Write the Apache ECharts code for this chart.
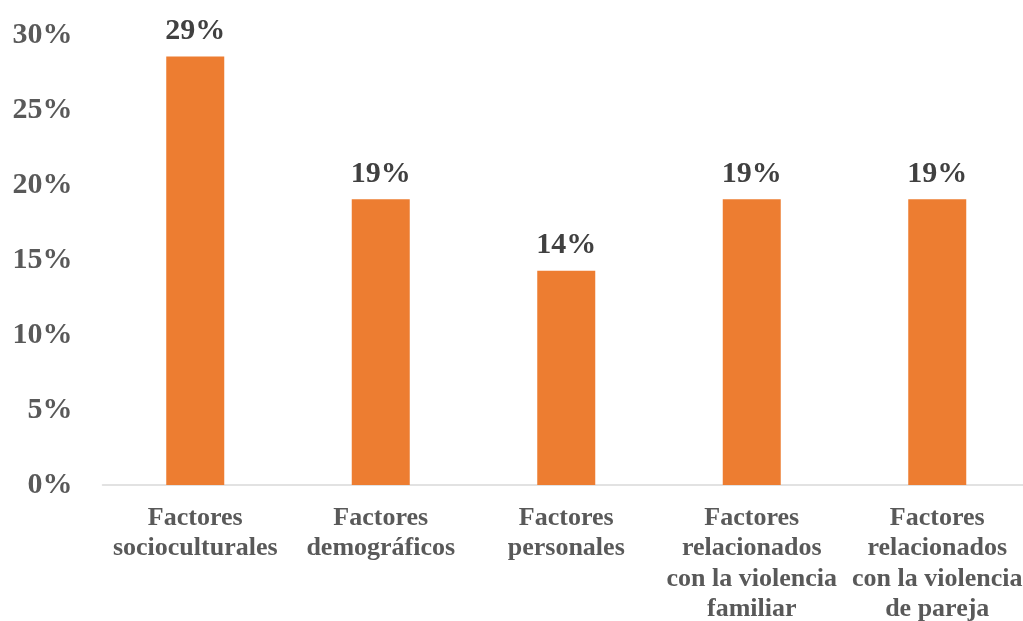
<!DOCTYPE html>
<html>
<head>
<meta charset="utf-8">
<script src="https://cdn.jsdelivr.net/npm/echarts@6/dist/echarts.min.js"></script>
<style>
  html, body { margin: 0; padding: 0; background: #fff; }
  #chart { width: 1023px; height: 621px; }
</style>
</head>
<body>
<div id="chart"></div>
<script>
// categorias (con saltos de linea como en el original)
var categories = [
  'Factores\nsocioculturales',
  'Factores\ndemográficos',
  'Factores\npersonales',
  'Factores\nrelacionados\ncon la violencia\nfamiliar',
  'Factores\nrelacionados\ncon la violencia\nde pareja'
]
// proporciones (6/21, 4/21, 3/21, 4/21, 4/21)
var values = [0.2857, 0.1905, 0.1429, 0.1905, 0.1905]
var yTicks = [0, 0.05, 0.1, 0.15, 0.2, 0.25, 0.3]

var font = '"Liberation Serif", "Times New Roman", serif'

var chart = echarts.init(document.getElementById('chart'))
chart.setOption({
  animation: false,
  grid: {
    left: 102.5,
    width: 927.5,
    top: 35,
    bottom: 136,
    outerBoundsMode: 'none'
  },
  xAxis: {
    type: 'category',
    data: categories,
    axisLine: { lineStyle: { color: '#D9D9D9', width: 1.5 } },
    axisTick: { show: false },
    axisLabel: {
      interval: 0,
      margin: 18,
      color: '#595959',
      fontFamily: font,
      fontWeight: 'bold',
      fontSize: 26,
      lineHeight: 30.5
    }
  },
  yAxis: {
    type: 'value',
    min: yTicks[0],
    max: yTicks[yTicks.length - 1],
    interval: 0.05,
    splitLine: { show: false },
    axisLine: { show: false },
    axisTick: { show: false },
    axisLabel: {
      margin: 30,
      color: '#595959',
      fontFamily: font,
      fontWeight: 'bold',
      fontSize: 30,
      formatter: function (v) { return Math.round(v * 100) + '%' }
    }
  },
  series: [
    {
      type: 'bar',
      data: values,
      barWidth: 58,
      itemStyle: { color: '#ED7D31' },
      label: {
        show: true,
        position: 'top',
        distance: 10,
        color: '#404040',
        fontFamily: font,
        fontWeight: 'bold',
        fontSize: 30,
        formatter: function (p) { return Math.round(p.value * 100) + '%' }
      }
    }
  ]
})
</script>
</body>
</html>
